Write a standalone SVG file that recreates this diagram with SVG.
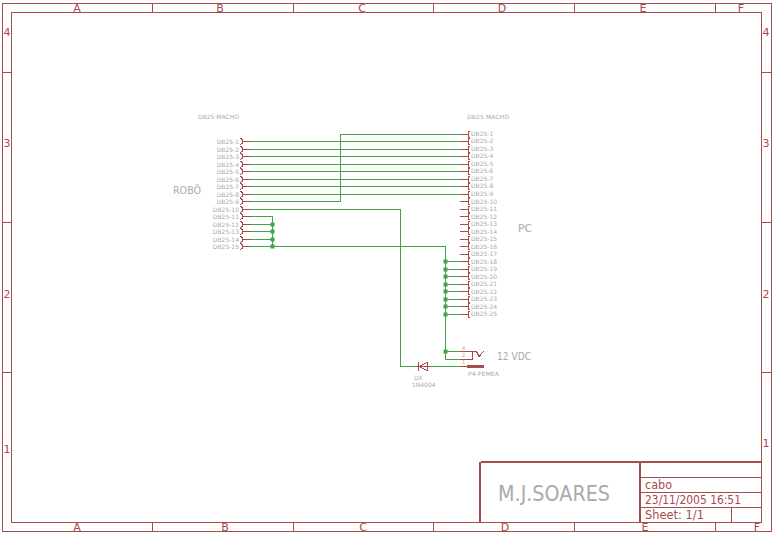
<svg xmlns="http://www.w3.org/2000/svg" xmlns:xlink="http://www.w3.org/1999/xlink" width="775" height="535" viewBox="0 0 775 535">
<style>
text{font-family:"DejaVu Sans",sans-serif}
.f{fill:none;stroke:#a54c4c;stroke-width:1;shape-rendering:crispEdges}
.t{fill:#a54c4c;font-size:11px;text-anchor:middle}
.s{fill:#a54c4c;font-size:12px}
.w{fill:none;stroke:#43a347;stroke-width:1;shape-rendering:crispEdges}
.p{fill:none;stroke:#a54c4c;stroke-width:1;shape-rendering:crispEdges}
.g{fill:#aaa;font-size:6px}
.e{text-anchor:end}
.l{fill:#aaa;font-size:10px}
.j{fill:#43a347}
</style>
<defs>
<g id="pl"><path class="p" d="M251 0H242M240 -3.5L242 -2V2L240 3.5"/></g>
<g id="pr"><path class="p" d="M460 0H468M470 -3.5L468 -2V2L470 3.5"/></g>
<rect id="jn" class="j" x="-2" y="-2" width="4" height="4"/>
</defs>
<rect width="775" height="535" fill="#fff"/>
<g id="frame">
<rect class="f" x="2.5" y="3.5" width="769" height="528"/>
<rect class="f" x="11.5" y="12.5" width="750" height="510"/>
<path class="f" d="M152.5 3.5V12.5M293.5 3.5V12.5M433.5 3.5V12.5M574.5 3.5V12.5M715.5 3.5V12.5M152.5 522.5V531.5M293.5 522.5V531.5M433.5 522.5V531.5M574.5 522.5V531.5M715.5 522.5V531.5M2.5 72.5H11.5M2.5 222.5H11.5M2.5 372.5H11.5M761.5 72.5H771.5M761.5 222.5H771.5M761.5 372.5H771.5"/>
<text class="t" x="77" y="12">A</text><text class="t" x="220" y="12">B</text><text class="t" x="362" y="12">C</text><text class="t" x="502" y="12">D</text><text class="t" x="643" y="12">E</text><text class="t" x="741" y="12">F</text>
<text class="t" x="77" y="531">A</text><text class="t" x="225" y="531">B</text><text class="t" x="363" y="531">C</text><text class="t" x="505" y="531">D</text><text class="t" x="645" y="531">E</text><text class="t" x="757" y="531">F</text>
<text class="t" x="7" y="36">4</text><text class="t" x="7" y="147">3</text><text class="t" x="7" y="298">2</text><text class="t" x="7" y="453">1</text>
<text class="t" x="766" y="36">4</text><text class="t" x="766" y="147">3</text><text class="t" x="766" y="298">2</text><text class="t" x="766" y="447">1</text>
</g>
<g id="title-block">
<path class="f" d="M480.5 462.5H761.5M480.5 461.5H761.5M480.5 462V522M479.5 462V522M640.5 462V522M639.5 462V522M640 477.5H761.5M640 492.5H761.5M640 507.5H761.5M731.5 507.5V522"/>
<text x="498" y="501" fill="#aaa" font-size="22" textLength="112" lengthAdjust="spacingAndGlyphs">M.J.SOARES</text>
<text class="s" x="645" y="489" textLength="27" lengthAdjust="spacingAndGlyphs">cabo</text>
<text class="s" x="645" y="504" textLength="96" lengthAdjust="spacingAndGlyphs">23/11/2005 16:51</text>
<text class="s" x="645" y="519" textLength="59" lengthAdjust="spacingAndGlyphs">Sheet: 1/1</text>
</g>
<g id="connectors">
<path class="w" d="M251 141.5H460M251 149.5H460M251 156.5H460M251 164.5H460M251 171.5H460M251 179.5H460M251 186.5H460M251 194.5H460M251 201.5H340.5V134.5H460M251 209.5H400.5V366.5H415M431 366.5H460M251 216.5H272.5V246.5M251 224.5H272.5M251 231.5H272.5M251 239.5H272.5M251 246.5H445.5V359.5H460M445.5 351.5H460M445.5 261.5H460M445.5 269.5H460M445.5 276.5H460M445.5 284.5H460M445.5 291.5H460M445.5 299.5H460M445.5 306.5H460M445.5 314.5H460"/>
<use xlink:href="#jn" x="272.5" y="224.5"/><use xlink:href="#jn" x="272.5" y="231.5"/><use xlink:href="#jn" x="272.5" y="239.5"/><use xlink:href="#jn" x="272.5" y="246.5"/>
<use xlink:href="#jn" x="445.5" y="261.5"/><use xlink:href="#jn" x="445.5" y="269.5"/><use xlink:href="#jn" x="445.5" y="276.5"/><use xlink:href="#jn" x="445.5" y="284.5"/><use xlink:href="#jn" x="445.5" y="291.5"/><use xlink:href="#jn" x="445.5" y="299.5"/><use xlink:href="#jn" x="445.5" y="306.5"/><use xlink:href="#jn" x="445.5" y="314.5"/><use xlink:href="#jn" x="445.5" y="351.5"/>
</g>
<g id="robo-connector">
<text class="l" x="173" y="194" textLength="28" lengthAdjust="spacingAndGlyphs">ROBÖ</text>
<text class="g" x="198" y="119" textLength="41" lengthAdjust="spacingAndGlyphs">DB25 MACHO</text>
<use xlink:href="#pl" y="141.5"/><use xlink:href="#pl" y="149.5"/><use xlink:href="#pl" y="156.5"/><use xlink:href="#pl" y="164.5"/><use xlink:href="#pl" y="171.5"/><use xlink:href="#pl" y="179.5"/><use xlink:href="#pl" y="186.5"/><use xlink:href="#pl" y="194.5"/><use xlink:href="#pl" y="201.5"/><use xlink:href="#pl" y="209.5"/><use xlink:href="#pl" y="216.5"/><use xlink:href="#pl" y="224.5"/><use xlink:href="#pl" y="231.5"/><use xlink:href="#pl" y="239.5"/><use xlink:href="#pl" y="246.5"/>
<text class="g e" x="239" y="144">DB25-1</text><text class="g e" x="239" y="152">DB25-2</text><text class="g e" x="239" y="159">DB25-3</text><text class="g e" x="239" y="167">DB25-4</text><text class="g e" x="239" y="174">DB25-5</text><text class="g e" x="239" y="182">DB25-6</text><text class="g e" x="239" y="189">DB25-7</text><text class="g e" x="239" y="197">DB25-8</text><text class="g e" x="239" y="204">DB25-9</text><text class="g e" x="239" y="212">DB25-10</text><text class="g e" x="239" y="219">DB25-11</text><text class="g e" x="239" y="227">DB25-12</text><text class="g e" x="239" y="234">DB25-13</text><text class="g e" x="239" y="242">DB25-14</text><text class="g e" x="239" y="249">DB25-15</text>
</g>
<g id="pc-connector">
<text class="l" x="518" y="232" textLength="14" lengthAdjust="spacingAndGlyphs">PC</text>
<text class="g" x="467" y="119" textLength="42" lengthAdjust="spacingAndGlyphs">DB25 MACHO</text>
<use xlink:href="#pr" y="134.5"/><use xlink:href="#pr" y="141.5"/><use xlink:href="#pr" y="149.5"/><use xlink:href="#pr" y="156.5"/><use xlink:href="#pr" y="164.5"/><use xlink:href="#pr" y="171.5"/><use xlink:href="#pr" y="179.5"/><use xlink:href="#pr" y="186.5"/><use xlink:href="#pr" y="194.5"/><use xlink:href="#pr" y="201.5"/><use xlink:href="#pr" y="209.5"/><use xlink:href="#pr" y="216.5"/><use xlink:href="#pr" y="224.5"/><use xlink:href="#pr" y="231.5"/><use xlink:href="#pr" y="239.5"/><use xlink:href="#pr" y="246.5"/><use xlink:href="#pr" y="254.5"/><use xlink:href="#pr" y="261.5"/><use xlink:href="#pr" y="269.5"/><use xlink:href="#pr" y="276.5"/><use xlink:href="#pr" y="284.5"/><use xlink:href="#pr" y="291.5"/><use xlink:href="#pr" y="299.5"/><use xlink:href="#pr" y="306.5"/><use xlink:href="#pr" y="314.5"/>
<text class="g" x="471" y="136">DB25-1</text><text class="g" x="471" y="143">DB25-2</text><text class="g" x="471" y="151">DB25-3</text><text class="g" x="471" y="158">DB25-4</text><text class="g" x="471" y="166">DB25-5</text><text class="g" x="471" y="173">DB25-6</text><text class="g" x="471" y="181">DB25-7</text><text class="g" x="471" y="188">DB25-8</text><text class="g" x="471" y="196">DB25-9</text><text class="g" x="471" y="204">DB25-10</text><text class="g" x="471" y="211">DB25-11</text><text class="g" x="471" y="219">DB25-12</text><text class="g" x="471" y="226">DB25-13</text><text class="g" x="471" y="234">DB25-14</text><text class="g" x="471" y="241">DB25-15</text><text class="g" x="471" y="249">DB25-16</text><text class="g" x="471" y="256">DB25-17</text><text class="g" x="471" y="264">DB25-18</text><text class="g" x="471" y="271">DB25-19</text><text class="g" x="471" y="279">DB25-20</text><text class="g" x="471" y="286">DB25-21</text><text class="g" x="471" y="294">DB25-22</text><text class="g" x="471" y="301">DB25-23</text><text class="g" x="471" y="309">DB25-24</text><text class="g" x="471" y="316">DB25-25</text>
</g>
<g id="diode">
<path class="p" d="M415 366.5H431M418.5 362V371M427 362.5V370.5L419 366.5Z"/>
<text class="g" x="414" y="380">DX</text>
<text class="g" x="412" y="387">1N4004</text>
</g>
<g id="jack">
<path class="p" d="M460 351.5H472.5V359.5H460M472.5 351.5H476.5L479 356.5L484 351M460 366.5H467"/>
<rect x="467" y="365" width="17" height="3" fill="#a54c4c"/>
<text class="g" x="462" y="350" style="font-size:5px">4</text>
<text class="g" x="462" y="357" style="font-size:5px">2</text>
<text class="g" x="462" y="364" style="font-size:5px">1</text>
<text class="g" x="468" y="376" textLength="31" lengthAdjust="spacingAndGlyphs">P4-FEMEA</text>
<text class="l" x="497" y="360" textLength="34" lengthAdjust="spacingAndGlyphs">12 VDC</text>
</g>
</svg>
